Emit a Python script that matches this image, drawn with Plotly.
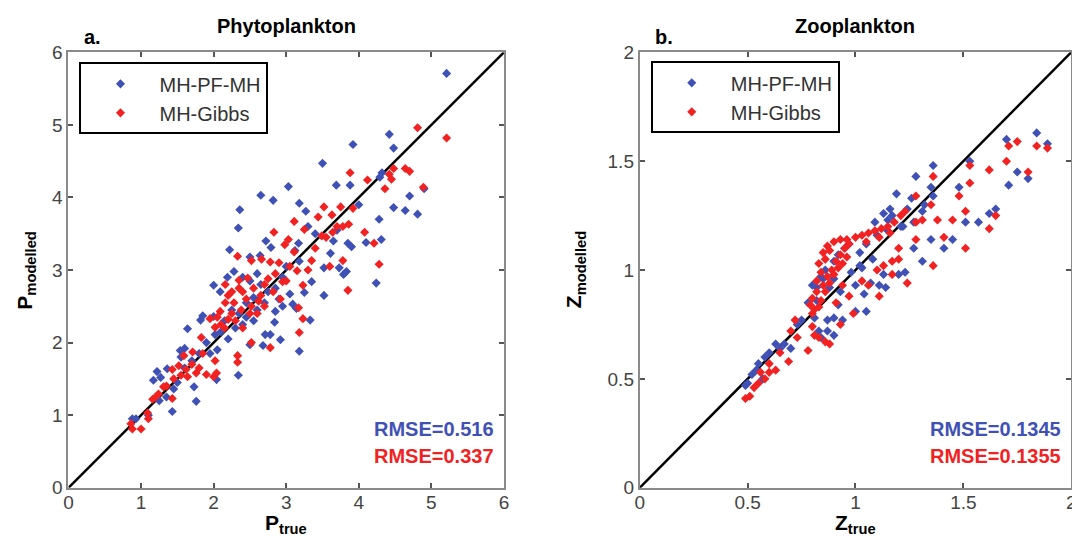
import plotly.graph_objects as go

# Panel a: phytoplankton (true vs modelled)
phyto_true_pfmh = [5.21, 4.42, 4.48, 3.92, 3.50, 4.32, 4.29, 3.69, 3.88, 4.70, 4.90, 4.48, 4.64, 4.81, 4.28,
                   4.31, 4.10, 4.24, 3.85, 3.90, 3.73, 3.79, 3.83, 3.52, 3.52, 3.61, 3.03, 2.65, 2.82, 3.18,
                   3.27, 2.36, 2.34, 2.22, 2.72, 2.79, 2.64, 2.50, 3.17, 3.12, 3.18, 3.35, 3.25, 3.05, 3.09,
                   3.14, 2.95, 2.85, 3.33, 3.18, 2.92, 2.78, 2.71, 2.84, 2.68, 2.50, 2.34, 2.04, 2.00, 2.09,
                   2.19, 2.28, 1.76, 1.43, 1.73, 1.22, 1.17, 1.27, 1.36, 1.64, 1.82, 1.85, 1.54, 1.60, 1.45,
                   0.93, 0.88, 2.00, 2.02, 2.25, 2.35, 2.45, 2.55, 2.60, 2.40, 2.30, 2.15, 2.10, 2.20, 2.55,
                   2.70, 2.75, 2.65, 2.50, 2.40, 2.60, 1.70, 1.80, 1.55, 1.90, 1.95, 1.35, 1.25, 1.10, 2.05,
                   2.85, 2.95, 3.00, 3.40, 3.30, 3.65, 3.70, 4.00, 2.45, 2.90, 1.50, 1.60]
phyto_model_pfmh = [5.71, 4.87, 4.68, 4.73, 4.47, 4.34, 4.28, 4.17, 4.17, 4.02, 4.12, 3.86, 3.82, 3.77, 3.70,
                    3.42, 3.38, 2.82, 3.37, 3.32, 3.03, 2.94, 2.98, 3.03, 2.65, 3.23, 4.15, 4.03, 3.96, 3.92,
                    3.81, 3.83, 3.58, 3.28, 3.40, 3.31, 3.20, 3.18, 3.37, 3.27, 3.12, 2.84, 2.69, 2.67, 2.53,
                    2.47, 2.50, 2.43, 2.31, 1.88, 2.04, 2.11, 2.11, 2.28, 1.96, 1.97, 1.55, 1.49, 2.79, 2.70,
                    2.90, 2.98, 1.19, 1.05, 1.39, 1.60, 1.48, 1.52, 1.64, 2.19, 2.31, 2.37, 1.89, 1.92, 1.36,
                    0.95, 0.95, 2.36, 2.11, 2.45, 2.40, 2.55, 2.62, 2.45, 2.25, 2.20, 2.30, 2.15, 2.05, 2.30,
                    2.55, 2.70, 2.80, 2.85, 2.90, 2.95, 1.75, 1.85, 1.80, 2.00, 1.85, 1.25, 1.20, 1.00, 1.90,
                    2.75, 2.90, 3.05, 3.50, 3.60, 3.40, 3.55, 3.90, 2.35, 2.60, 1.45, 1.65]
phyto_true_gibbs = [5.21, 4.81, 4.64, 4.70, 4.48, 4.42, 4.36, 4.45, 4.89, 4.12, 3.88, 3.92, 3.75, 3.52, 3.63,
                    3.44, 3.86, 3.78, 3.64, 4.08, 4.21, 4.28, 3.85, 3.78, 3.49, 3.60, 3.11, 3.25, 2.98, 3.03,
                    2.83, 3.11, 3.35, 3.15, 3.23, 3.17, 3.23, 3.18, 2.78, 2.66, 2.52, 2.33, 2.16, 2.35, 2.47,
                    2.75, 2.95, 2.92, 2.82, 2.62, 2.52, 2.38, 2.28, 2.16, 2.09, 1.95, 2.02, 2.20, 2.52, 2.78,
                    2.33, 2.33, 2.02, 2.04, 2.00, 1.83, 1.76, 1.80, 1.90, 1.62, 1.64, 1.52, 1.71, 1.59, 1.85,
                    1.43, 1.31, 1.24, 1.16, 1.43, 1.09, 1.10, 1.00, 0.88, 0.86, 2.20, 2.25, 2.30, 2.40, 2.45,
                    2.55, 2.60, 2.65, 2.70, 2.10, 2.15, 2.05, 2.25, 2.35, 2.50, 2.40, 2.70, 2.85, 2.90, 3.00,
                    3.05, 3.30, 3.40, 3.55, 3.70, 1.70, 1.55, 1.45, 1.35, 1.20]
phyto_model_gibbs = [4.82, 4.96, 4.40, 4.36, 4.40, 4.32, 4.12, 4.25, 4.14, 4.24, 4.34, 3.85, 3.87, 3.87, 3.76,
                     3.73, 3.63, 3.60, 3.52, 3.52, 3.37, 3.08, 2.72, 3.13, 3.47, 3.05, 3.67, 3.56, 3.35, 3.42,
                     3.52, 3.25, 3.13, 2.99, 2.79, 2.48, 2.33, 2.14, 3.11, 3.15, 3.13, 3.19, 2.80, 2.86, 2.89,
                     2.88, 2.84, 2.60, 2.70, 2.57, 2.50, 2.45, 2.55, 2.55, 2.43, 2.33, 2.21, 2.32, 2.00, 1.93,
                     1.82, 1.73, 1.75, 1.58, 1.53, 2.07, 1.58, 1.65, 1.56, 1.63, 1.53, 1.68, 1.87, 1.82, 1.85,
                     1.63, 1.39, 1.29, 1.22, 1.23, 1.03, 0.95, 0.81, 0.81, 0.88, 2.65, 2.40, 2.30, 2.70, 2.60,
                     2.75, 2.40, 2.65, 2.80, 2.25, 2.20, 2.35, 2.70, 2.75, 2.40, 2.20, 2.50, 2.95, 3.10, 2.85,
                     3.05, 3.00, 3.30, 3.45, 3.60, 1.70, 1.55, 1.50, 1.40, 1.25]

# Panel b: zooplankton
zoo_true_pfmh = [1.84, 1.89, 1.70, 1.75, 1.80, 1.71, 1.53, 1.48, 1.51, 1.57, 1.62, 1.65, 1.41, 1.45, 1.36,
                 1.28, 1.35, 1.31, 1.27, 1.26, 1.36, 1.19, 1.16, 1.13, 1.09, 1.21, 1.27, 1.35, 1.31, 1.23,
                 1.20, 1.13, 1.07, 1.11, 1.04, 1.00, 1.03, 1.00, 1.05, 0.93, 0.90, 0.92, 0.87, 0.81, 0.83,
                 0.87, 0.90, 0.84, 0.94, 0.98, 0.95, 0.97, 0.92, 0.90, 0.90, 1.02, 1.05, 1.10, 1.15, 0.85,
                 0.82, 0.80, 0.73, 0.70, 0.67, 0.63, 0.58, 0.55, 0.52, 0.50, 0.49, 0.54, 0.57, 0.60, 0.65,
                 0.75, 0.78, 0.82, 0.84, 0.86, 0.88, 1.02, 1.08, 1.15, 1.17, 1.22, 1.24, 1.14, 1.32]
zoo_model_pfmh = [1.63, 1.58, 1.60, 1.45, 1.42, 1.39, 1.50, 1.38, 1.22, 1.22, 1.26, 1.28, 1.10, 1.14, 1.48,
                  1.43, 1.38, 1.27, 1.22, 1.33, 1.34, 1.35, 1.28, 1.26, 1.22, 1.20, 1.10, 1.14, 1.04, 0.99,
                  0.98, 0.98, 0.94, 0.93, 0.89, 0.93, 1.01, 0.81, 0.81, 0.90, 0.78, 0.84, 0.77, 0.78, 0.72,
                  0.72, 0.70, 0.69, 0.77, 0.99, 1.10, 1.12, 1.07, 1.04, 0.96, 1.08, 1.12, 1.16, 1.18, 0.96,
                  0.92, 0.93, 0.75, 0.64, 0.66, 0.66, 0.60, 0.57, 0.52, 0.48, 0.47, 0.54, 0.50, 0.62, 0.64,
                  0.77, 0.85, 0.86, 0.97, 1.00, 0.92, 1.02, 1.05, 1.23, 1.25, 1.20, 1.28, 0.92, 1.30]
zoo_true_gibbs = [1.89, 1.84, 1.75, 1.71, 1.70, 1.80, 1.53, 1.53, 1.51, 1.51, 1.62, 1.65, 1.62, 1.48, 1.45,
                  1.41, 1.38, 1.36, 1.36, 1.35, 1.31, 1.28, 1.28, 1.28, 1.24, 1.20, 1.20, 1.17, 1.17, 1.13,
                  1.11, 1.10, 1.06, 1.03, 0.99, 0.97, 0.94, 0.93, 0.91, 0.88, 0.86, 0.83, 0.81, 0.80, 0.78,
                  0.73, 0.69, 0.70, 0.72, 0.65, 0.63, 0.60, 0.58, 0.55, 0.53, 0.51, 0.49, 0.56, 0.60, 0.83,
                  0.85, 0.87, 0.90, 0.93, 0.96, 0.97, 0.95, 0.93, 0.91, 0.89, 0.87, 0.85, 0.82, 0.80, 0.79,
                  0.81, 0.84, 0.86, 0.88, 0.90, 0.92, 0.94, 0.96, 0.84, 0.86, 0.88, 0.82, 0.80, 0.83, 1.00,
                  1.03, 1.06, 1.09, 1.12, 1.15, 1.18, 1.21, 1.23, 1.11, 1.05, 1.16]
zoo_model_gibbs = [1.56, 1.57, 1.59, 1.57, 1.50, 1.45, 1.48, 1.40, 1.27, 1.10, 1.46, 1.25, 1.19, 1.34, 1.23,
                   1.15, 1.23, 1.02, 1.43, 1.30, 1.23, 1.34, 1.22, 1.14, 0.94, 1.05, 1.10, 1.04, 0.98, 1.02,
                   0.88, 1.00, 0.93, 0.95, 0.80, 0.88, 0.93, 0.75, 0.85, 0.66, 0.67, 0.69, 0.70, 0.74, 0.63,
                   0.69, 0.58, 0.72, 0.77, 0.62, 0.54, 0.53, 0.50, 0.48, 0.46, 0.42, 0.41, 0.53, 0.57, 1.03,
                   1.08, 1.11, 1.13, 1.14, 1.14, 1.12, 1.10, 1.07, 1.04, 1.00, 0.97, 0.93, 0.90, 0.87, 0.84,
                   0.82, 0.86, 0.90, 0.94, 0.98, 1.01, 1.03, 1.06, 0.99, 1.05, 1.09, 0.95, 0.80, 0.83, 1.15,
                   1.16, 1.17, 1.18, 1.19, 1.20, 1.22, 1.25, 1.27, 1.15, 1.13, 1.17]

phyto_diag = [0, 6]
zoo_diag = [0, 2]
phyto_rmse = ["RMSE=0.516", "RMSE=0.337"]
zoo_rmse = ["RMSE=0.1345", "RMSE=0.1355"]
series_names = ["MH-PF-MH", "MH-Gibbs"]

BLUE = "#3f51b5"
RED = "#f22222"
FONT = "Liberation Sans, Arial, sans-serif"
W, H = 1080, 550
SHIFT = 8  # body margin of the written page


def px_x(v):
    # wanted screen x -> paper fraction (calibrated against an earlier render)
    page = (v - 4.5) / 0.992
    return (page - SHIFT) / W


def px_y(v):
    # wanted screen y -> paper fraction (calibrated against an earlier render)
    page = (v - 10) / 0.961
    return 1 - (page - SHIFT) / H


fig = go.Figure()

marker_b = dict(symbol="diamond", size=7, color=BLUE)
marker_r = dict(symbol="diamond", size=7, color=RED)

fig.add_trace(go.Scatter(x=phyto_diag, y=phyto_diag, mode="lines", line=dict(color="black", width=2.5),
                         showlegend=False, xaxis="x", yaxis="y"))
fig.add_trace(go.Scatter(x=phyto_true_pfmh, y=phyto_model_pfmh, mode="markers", marker=marker_b,
                         name=series_names[0], legend="legend", legendgroup="a1", xaxis="x", yaxis="y"))
fig.add_trace(go.Scatter(x=phyto_true_gibbs, y=phyto_model_gibbs, mode="markers", marker=marker_r,
                         name=series_names[1], legend="legend", legendgroup="a2", xaxis="x", yaxis="y"))

fig.add_trace(go.Scatter(x=zoo_diag, y=zoo_diag, mode="lines", line=dict(color="black", width=2.5),
                         showlegend=False, xaxis="x2", yaxis="y2"))
fig.add_trace(go.Scatter(x=zoo_true_pfmh, y=zoo_model_pfmh, mode="markers", marker=marker_b,
                         name=series_names[0], legend="legend2", legendgroup="b1", xaxis="x2", yaxis="y2"))
fig.add_trace(go.Scatter(x=zoo_true_gibbs, y=zoo_model_gibbs, mode="markers", marker=marker_r,
                         name=series_names[1], legend="legend2", legendgroup="b2", xaxis="x2", yaxis="y2"))

axis_common = dict(showline=True, linecolor="#8a8a8a", linewidth=2, mirror="ticks", ticks="inside",
                   ticklen=5, tickwidth=1.5, tickcolor="#555", showgrid=False, zeroline=False,
                   tickfont=dict(family=FONT, size=19, color="#444"))

ydom = [px_y(487), px_y(52)]
legend_common = dict(xanchor="left", yanchor="top", bgcolor="white", bordercolor="black", borderwidth=2,
                     font=dict(family=FONT, size=20, color="#333"), itemwidth=68, tracegroupgap=0,
                     traceorder="grouped")
fig.update_layout(
    width=W, height=H, margin=dict(l=0, r=0, t=0, b=0),
    plot_bgcolor="white", paper_bgcolor="white",
    font=dict(family=FONT),
    xaxis=dict(domain=[px_x(68), px_x(504)], range=[0, 6], dtick=1, anchor="y",
               ticklabelstandoff=-4, **axis_common),
    yaxis=dict(domain=ydom, range=[0, 6], dtick=1, anchor="x", **axis_common),
    xaxis2=dict(domain=[px_x(640), px_x(1072)], range=[0, 2], dtick=0.5, anchor="y2",
                ticklabelstandoff=-4, **axis_common),
    yaxis2=dict(domain=ydom, range=[0, 2], dtick=0.5, anchor="x2", **axis_common),
    legend=dict(x=px_x(79), y=px_y(62), **legend_common),
    legend2=dict(x=px_x(651), y=px_y(61), **legend_common),
)

ann = []
for xref, yref, title, tag, xl, yl, ylx, rm in [
    ("x domain", "y domain", "Phytoplankton", "a.", "P<sub>true</sub>", "P<sub>modelled</sub>", -0.064,
     phyto_rmse),
    ("x2 domain", "y2 domain", "Zooplankton", "b.", "Z<sub>true</sub>", "Z<sub>modelled</sub>", -0.115,
     zoo_rmse),
]:
    ann.append(dict(xref=xref, yref=yref, x=0.5, y=1.03, text="<b>%s</b>" % title, showarrow=False,
                    yanchor="bottom", font=dict(size=20, color="black")))
    ann.append(dict(xref=xref, yref=yref, x=0.03, y=1.005, text="<b>%s</b>" % tag, showarrow=False,
                    xanchor="left", yanchor="bottom", font=dict(size=20, color="black")))
    ann.append(dict(xref=xref, yref=yref, x=0.5, y=-0.05, text="<b>%s</b>" % xl, showarrow=False,
                    yanchor="top", font=dict(size=21, color="black")))
    ann.append(dict(xref=xref, yref=yref, x=ylx, y=0.5, text="<b>%s</b>" % yl, showarrow=False,
                    textangle=-90, xanchor="right", font=dict(size=21, color="black")))
    ann.append(dict(xref=xref, yref=yref, x=0.982, y=0.134, text="<b>%s</b>" % rm[0], showarrow=False,
                    xanchor="right", yanchor="middle", font=dict(size=20, color=BLUE)))
    ann.append(dict(xref=xref, yref=yref, x=0.982, y=0.072, text="<b>%s</b>" % rm[1], showarrow=False,
                    xanchor="right", yanchor="middle", font=dict(size=20, color=RED)))
fig.update_layout(annotations=ann)

fig.write_html("out.html")
